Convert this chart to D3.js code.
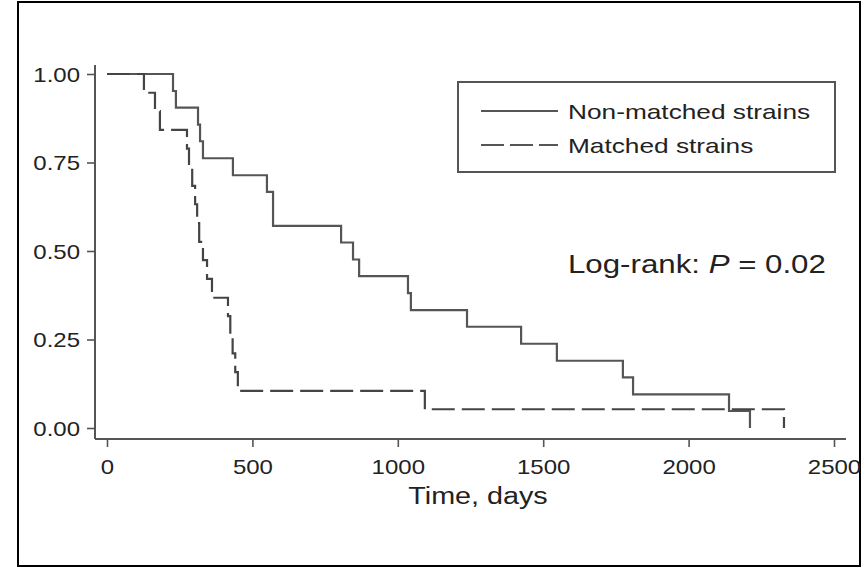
<!DOCTYPE html>
<html>
<head>
<meta charset="utf-8">
<script src="https://cdn.jsdelivr.net/npm/d3@7"></script>
<style>
  html, body { margin: 0; padding: 0; background: #fff; }
  svg { display: block; }
  text { font-family: "Liberation Sans", Arial, Helvetica, sans-serif; fill: #222; }
</style>
</head>
<body>
<svg id="chart" width="863" height="568"></svg>
<script>
// ---- data ----
const nonMatchedTime = [0, 227, 237, 313, 320, 330, 433, 550, 571, 805, 846, 867, 1035, 1045, 1238, 1424, 1547, 1774, 1809, 2139, 2211];
const nonMatchedSurv = [1, 0.952, 0.905, 0.857, 0.810, 0.762, 0.714, 0.667, 0.571, 0.524, 0.476, 0.429, 0.381, 0.333, 0.286, 0.238, 0.190, 0.143, 0.095, 0.048, 0];
const matchedTime = [0, 127, 165, 182, 275, 282, 293, 303, 310, 317, 330, 344, 361, 416, 424, 432, 441, 450, 1093, 2328];
const matchedSurv = [1, 0.947, 0.895, 0.842, 0.789, 0.737, 0.684, 0.632, 0.579, 0.526, 0.474, 0.421, 0.368, 0.316, 0.263, 0.211, 0.158, 0.105, 0.053, 0];
const xTicks = [0, 500, 1000, 1500, 2000, 2500];
const yTicks = [0, 0.25, 0.5, 0.75, 1];
const seriesNames = ["Non-matched strains", "Matched strains"];
const xLabel = "Time, days";

// ---- layout ----
const svg = d3.select("#chart");
const x = d3.scaleLinear().domain([0, 2500]).range([107, 834]);
const y = d3.scaleLinear().domain([0, 1]).range([428, 74]);
const axisColor = "#555";
const SX = 1.2; // horizontal stretch of glyphs in the reference

svg.append("rect").attr("width", 863).attr("height", 568).attr("fill", "#fff");
// outer frame
svg.append("rect").attr("x", 18).attr("y", 2).attr("width", 842).attr("height", 564)
  .attr("fill", "none").attr("stroke", "#000").attr("stroke-width", 2);

// axis lines (extended slightly beyond data range)
const axisX = 95, axisY = 439;
svg.append("line").attr("x1", axisX).attr("x2", axisX).attr("y1", 65).attr("y2", axisY)
  .attr("stroke", axisColor).attr("stroke-width", 2);
svg.append("line").attr("x1", axisX).attr("x2", 846).attr("y1", axisY).attr("y2", axisY)
  .attr("stroke", axisColor).attr("stroke-width", 2);

// y axis
const gy = svg.append("g").attr("transform", `translate(${axisX},0)`)
  .call(d3.axisLeft(y).tickValues(yTicks).tickFormat(d3.format(".2f")).tickSize(8));
gy.select(".domain").remove();
gy.selectAll(".tick line").attr("stroke", axisColor).attr("stroke-width", 1.6);
gy.selectAll(".tick text").attr("x", 0).attr("dy", "0.35em")
  .attr("transform", `translate(-15,0) scale(${SX},1)`)
  .style("font-size", "20px").attr("fill", "#222")
  .style("font-family", '"Liberation Sans", Arial, sans-serif');

// x axis
const gx = svg.append("g").attr("transform", `translate(0,${axisY})`)
  .call(d3.axisBottom(x).tickValues(xTicks).tickFormat(d3.format("d")).tickSize(8));
gx.select(".domain").remove();
gx.selectAll(".tick line").attr("stroke", axisColor).attr("stroke-width", 1.6);
gx.selectAll(".tick text").attr("y", 0).attr("dy", 0)
  .attr("transform", `translate(0,35) scale(${SX},1)`)
  .style("font-size", "20px").attr("fill", "#222")
  .style("font-family", '"Liberation Sans", Arial, sans-serif');

// x label
svg.append("text").attr("transform", `translate(478,504) scale(1.25,1)`)
  .attr("text-anchor", "middle").style("font-size", "23px").text(xLabel);

// step curves
const line = d3.line().x(d => x(d[0])).y(d => y(d[1])).curve(d3.curveStepAfter);
const nonMatched = nonMatchedTime.map((t, i) => [t, nonMatchedSurv[i]]);
const matched = matchedTime.map((t, i) => [t, matchedSurv[i]]);

svg.append("path").datum(nonMatched).attr("d", line)
  .attr("fill", "none").attr("stroke", "#555").attr("stroke-width", 2.2);
svg.append("path").datum(matched).attr("d", line)
  .attr("fill", "none").attr("stroke", "#444").attr("stroke-width", 2.2)
  .attr("stroke-dasharray", "23,7");

// legend
svg.append("rect").attr("x", 458).attr("y", 82).attr("width", 377).attr("height", 90)
  .attr("fill", "none").attr("stroke", axisColor).attr("stroke-width", 2);
const legY = [111, 145];
const dashes = [null, "23,6"];
seriesNames.forEach((name, i) => {
  const l = svg.append("line").attr("x1", 481).attr("x2", 558).attr("y1", legY[i]).attr("y2", legY[i])
    .attr("stroke", "#555").attr("stroke-width", 2.2);
  if (dashes[i]) l.attr("stroke-dasharray", dashes[i]);
  svg.append("text").attr("transform", `translate(568,${legY[i] + 7.5}) scale(1.25,1)`)
    .style("font-size", "21px").text(name);
});

// log-rank annotation
const lr = svg.append("text").attr("transform", `translate(568,273) scale(1.25,1)`)
  .style("font-size", "25px");
lr.append("tspan").text("Log-rank: ");
lr.append("tspan").style("font-style", "italic").text("P");
lr.append("tspan").text(" = 0.02");
</script>
</body>
</html>
